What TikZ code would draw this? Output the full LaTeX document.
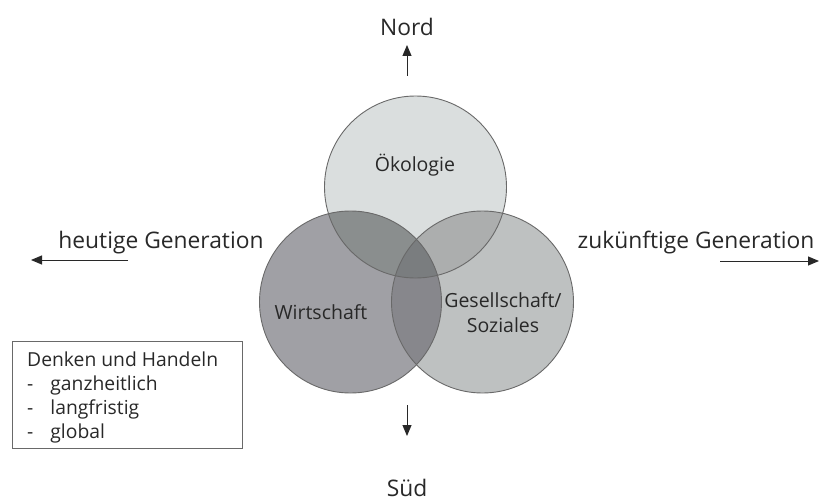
\documentclass[tikz,border=0pt]{standalone}
\usepackage{fontspec}
\setmainfont{Open Sans}
\usepackage{xcolor}
\definecolor{oekogray}{RGB}{218,222,222}
\definecolor{wirtgray}{RGB}{160,160,165}
\definecolor{gesgray}{RGB}{190,193,193}
\definecolor{owgray}{RGB}{138,142,142}
\definecolor{oggray}{RGB}{172,174,174}
\definecolor{wggray}{RGB}{135,135,140}
\definecolor{allgray}{RGB}{122,125,127}
\definecolor{randgray}{RGB}{105,105,105}
\definecolor{textgray}{RGB}{40,40,40}
\usetikzlibrary{arrows.meta,positioning}
\tikzset{
  lbl/.style={font=\fontsize{22.8}{27}\selectfont,text=textgray,inner sep=0pt,align=center},
  kreislbl/.style={lbl,font=\fontsize{19.5}{25}\selectfont},
  boxlbl/.style={lbl,align=left,font=\fontsize{19.3}{24}\selectfont},
  pfeil/.style={-{Triangle[length=11pt,width=9pt]},draw=textgray,line width=1pt},
  ring/.style={draw=randgray,line width=0.9pt},
}

\begin{document}
\begin{tikzpicture}[x=1pt,y=-1pt]
\useasboundingbox (0,0) rectangle (820,503);

% circle centres
\coordinate (oeko) at (415.5,187);
\coordinate (wirt) at (350.5,302);
\coordinate (ges) at (482.5,302);

% single areas
\fill[oekogray] (oeko) circle (91);
\fill[wirtgray] (wirt) circle (91);
\fill[gesgray] (ges) circle (91);

% overlaps
\begin{scope}
  \clip (oeko) circle (91);
  \fill[owgray] (wirt) circle (91);
  \fill[oggray] (ges) circle (91);
\end{scope}
\begin{scope}
  \clip (wirt) circle (91);
  \fill[wggray] (ges) circle (91);
  \clip (ges) circle (91);
  \fill[allgray] (oeko) circle (91);
\end{scope}

% outlines
\draw[ring] (oeko) circle (91);
\draw[ring] (wirt) circle (91);
\draw[ring] (ges) circle (91);

% labels in the circles
\node[kreislbl] (oekotxt) at (415,165) {Ökologie};
\node[kreislbl] (wirttxt) at (321,312) {Wirtschaft};
\node[kreislbl] (gestxt) at (503,313) {Gesellschaft/\\Soziales};

% directions
\node[lbl] (nord) at (407,27) {Nord};
\node[lbl] (sued) at (407,488) {Süd};
\node[lbl] (heute) at (161,243) {heutige Generation};
\node[lbl] (zukunft) at (696,243) {zukünftige Generation};

\coordinate (nordfuss) at (407,76);
\coordinate (nordspitze) at (407,45);
\coordinate (suedfuss) at (407,405);
\coordinate (suedspitze) at (407,436);
\coordinate (heutefuss) at (128,260);
\coordinate (heutespitze) at (31,260);
\coordinate (zukunftfuss) at (720,261);
\coordinate (zukunftspitze) at (819,261);

\draw[pfeil] (nordfuss) -- (nordspitze);
\draw[pfeil] (suedfuss) -- (suedspitze);
\draw[pfeil] (heutefuss) -- (heutespitze);
\draw[pfeil] (zukunftfuss) -- (zukunftspitze);

% box
\node[draw=randgray,line width=0.9pt,minimum width=230,minimum height=107,anchor=north west] (kasten) at (12,341) {};
\node[boxlbl,anchor=north west] (denken) at (27,352)
  {Denken und Handeln\\
   -\hspace{17pt}ganzheitlich\\
   -\hspace{17pt}langfristig\\
   -\hspace{17pt}global};
\end{tikzpicture}
\end{document}
